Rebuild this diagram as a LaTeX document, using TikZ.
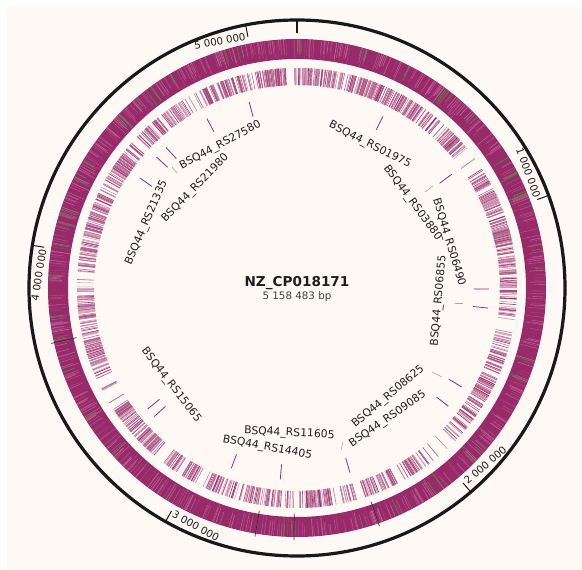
\documentclass[tikz,border=0pt]{standalone}
\usepackage{fontspec}
\setmainfont{DejaVu Sans}
\definecolor{bgc}{HTML}{FFF9F5}
\definecolor{mag}{HTML}{982A69}
\definecolor{pinkl}{HTML}{D890B8}
\definecolor{grn}{HTML}{4E8A3A}
\definecolor{txt}{HTML}{1E1E1E}
\begin{document}
\begin{tikzpicture}[x=1pt,y=1pt,
  lbl/.style={font=\fontsize{10.8}{13}\selectfont, text=txt, inner sep=0pt},
  ticklbl/.style={font=\fontsize{10.2}{12}\selectfont, text=txt, inner sep=0pt},
  leader/.style={mag, line width=0.8pt},
  conn/.style={gray!70, line width=0.6pt}]
\useasboundingbox (-297,-282) rectangle (285,288);
\fill[bgc] (-290,-282) rectangle (285,281);
% dense ring
\fill[mag, even odd rule] (0,0) circle (249pt) (0,0) circle (229pt);
\pgfmathsetseed{7}
\foreach \i in {1,...,650}{
  \pgfmathsetmacro\a{360*rnd}
  \pgfmathsetmacro\w{0.2+0.4*rnd}
  \pgfmathsetmacro\m{20+55*rnd}
  \pgfmathsetmacro\ra{229.5+9*rnd}
  \draw[color=pinkl!\m!mag, line width=\w pt] (\a:\ra) -- (\a:248.5);
}
\foreach \i in {1,...,45}{
  \pgfmathsetmacro\a{360*rnd}
  \pgfmathsetmacro\ra{229+10*rnd}
  \draw[grn, line width=0.7pt] (\a:\ra) -- (\a:248.5);
}
% black marks in dense ring
\foreach \t in {257.3,189.6,180.7,160.9}{
  \draw[black!80, line width=0.7pt] ({90-\t}:226) -- ({90-\t}:252);
}
% second ring
\foreach \c in {1,...,320}{
  \pgfmathsetmacro\base{360*rnd}
  \pgfmathtruncatemacro\n{2+int(7*rnd)}
  \foreach \j in {1,...,\n}{
    \pgfmathsetmacro\a{\base+4*rnd}
    \pgfmathsetmacro\w{0.35+0.5*rnd}
    \pgfmathsetmacro\m{40+60*rnd}
    \draw[color=mag!\m!bgc, line width=\w pt] (\a:203) -- (\a:220);
  }
}
% outer circle and ticks
\draw[black!90, line width=3.2pt] (0,0) circle (268pt);
\draw[black!90, line width=2pt] (90:268) -- (90:255);
\foreach \t/\s in {69.79/1 000 000, 348.95/5 000 000, 279.16/4 000 000}{
  \draw[black!90, line width=1pt] ({90-\t}:268) -- ({90-\t}:256);
  \node[ticklbl, anchor=east, rotate=-\t] at ({90-\t+0.5}:257) {\s};
}
\foreach \t/\s in {139.58/2 000 000, 209.37/3 000 000}{
  \draw[black!90, line width=1pt] ({90-\t}:268) -- ({90-\t}:256);
  \node[ticklbl, anchor=west, rotate=180-\t] at ({90-\t+0.5}:257) {\s};
}
% leader ticks
\foreach \t in {345.6,332,317,313,305,26.6,53.7,90.3,96,121,128,164,185,200,228,231}{
  \draw[leader] ({90-\t}:177) -- ({90-\t}:192);
}
% gray connectors
\draw[conn] (-125,121) -- (-120,115);
\draw[conn] (136,102) -- (128,96);
\draw[conn] (166,-15) -- (158,-15);
\draw[conn] (135,-84) -- (145,-89);
\draw[conn] (46,-154) -- (44,-162);
% labels
\foreach \t/\r/\s/\nm in {331.8/162/BSQ44\_RS27580/l1, 314.5/142.5/BSQ44\_RS21980/l2,
  293.5/164/BSQ44\_RS21335/l3, 27/160.5/BSQ44\_RS01975/l4, 53.6/143.4/BSQ44\_RS03880/l5,
  73.3/158.5/BSQ44\_RS06490/l6, 95.2/142.5/BSQ44\_RS06855/l7, 140/142/BSQ44\_RS08625/l8,
  145.3/159.5/BSQ44\_RS09085/l9, 183/145.5/BSQ44\_RS11605/l10, 190.5/162.5/BSQ44\_RS14405/l11,
  232.4/159/BSQ44\_RS15065/l12}{
  \pgfmathsetmacro\rot{(\t>90 && \t<270) ? 180-\t : -\t}
  \node[lbl, rotate=\rot] (\nm) at ({90-\t}:\r) {\s};
}
% title
\node[font=\bfseries\fontsize{13.6}{15}\selectfont, text=txt, inner sep=0pt] (title) at (0,5) {NZ\_CP018171};
\node[font=\fontsize{10.3}{12}\selectfont, text=black!75, inner sep=0pt] (len) at (0,-9) {5 158 483 bp};
\end{tikzpicture}
\end{document}
